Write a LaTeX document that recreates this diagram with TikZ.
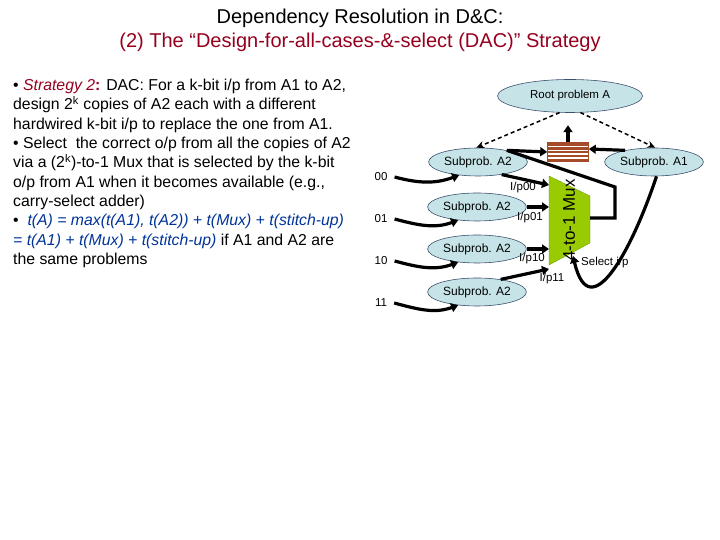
\documentclass[tikz,border=0pt]{standalone}
\usepackage{fontspec}
\setmainfont{Liberation Sans}
\usetikzlibrary{arrows.meta,shapes.geometric}
\definecolor{ttl}{RGB}{150,0,30}
\definecolor{emph}{RGB}{0,51,153}
\definecolor{subb}{RGB}{198,228,232}
\definecolor{subd}{RGB}{60,80,110}
\definecolor{muxg}{RGB}{153,204,0}
\definecolor{regb}{RGB}{165,75,40}

\begin{document}
\begin{tikzpicture}[x=1pt, y=1pt,
  every node/.style={inner sep=1pt},
  sub/.style={ellipse, draw=subd, fill=subb, line width=0.6pt,
              minimum width=90pt, minimum height=28pt,
              font=\fontsize{12}{14}\selectfont},
  lbl/.style={font=\fontsize{11.5}{13}\selectfont},
  wire/.style={line width=3.2pt, -{Triangle[length=7pt,width=9pt]}},
  dep/.style={line width=1.5pt, dash pattern=on 4pt off 3pt,
              -{Stealth[length=8pt,width=7pt]}},
]
\useasboundingbox (0,0) rectangle (720,540);

%% ---- Title ----
\node[align=center, font=\fontsize{20}{24}\selectfont] (title) at (360,510)
  {Dependency Resolution in D\&C:\\
   \textcolor{ttl}{(2) The “Design-for-all-cases-\&-select (DAC)” Strategy}};

%% ---- Text block ----
\node[anchor=north west, align=left, font=\fontsize{15.8}{19.3}\selectfont] (txt) at (12,462)
  {• \textcolor{ttl}{\textit{Strategy 2}\textbf{:}} DAC: For a k-bit i/p from A1 to A2,\\
   design 2\textsuperscript{k} copies of A2 each with a different\\
   hardwired k-bit i/p to replace the one from A1.\\
   • Select\ \ the correct o/p from all the copies of A2\\
   via a (2\textsuperscript{k})-to-1 Mux that is selected by the k-bit\\
   o/p from A1 when it becomes available (e.g.,\\
   carry-select adder)\\
   •\ \ \textcolor{emph}{\textit{t(A) = max(t(A1), t(A2)) + t(Mux) + t(stitch-up)}}\\
   \textcolor{emph}{\textit{= t(A1) + t(Mux) + t(stitch-up)}} if A1 and A2 are\\
   the same problems};

%% =========================================================
%% Diagram
%% =========================================================
\node[sub, minimum width=145pt, minimum height=33pt, font=\fontsize{11.5}{13}\selectfont]
  (root) at (570,444) {Root problem A};

\node[sub] (a2a) at (478,378) {Subprob. A2};
\node[sub] (a2b) at (477,333) {Subprob. A2};
\node[sub] (a2c) at (477,291) {Subprob. A2};
\node[sub] (a2d) at (477,248) {Subprob. A2};
\node[sub] (a1)  at (654,378) {Subprob. A1};

\node[lbl] (in00) at (381,363) {00};
\node[lbl] (in01) at (381,321) {01};
\node[lbl] (in10) at (381,279) {10};
\node[lbl] (in11) at (381,237) {11};

%% register (stitch-up)
\node[draw=regb, fill=regb, line width=0.6pt, minimum width=41pt, minimum height=19pt] (reg) at (568,388) {};
\foreach \k in {1,...,4}
  \draw[white, line width=1.5pt] ([xshift=1pt,yshift=\k*3.8pt]reg.south west)
    -- ([xshift=-1pt,yshift=\k*3.8pt]reg.south east);

%% mux
\fill[muxg, draw=muxg!70!black, line width=0.3pt] (549,364) -- (590,344) -- (590,297) -- (549,275) -- cycle;
\node[rotate=90, font=\fontsize{17}{19}\selectfont] (mux) at (569,320) {4-to-1 Mux};
\coordinate (mi0) at (549,355);
\coordinate (mi1) at (549,333);
\coordinate (mi2) at (549,291);
\coordinate (mi3) at (549,271);
\coordinate (mout) at (590,322);
\coordinate (msel) at (573,284);
\coordinate (fb) at (615,353);
\coordinate (jn) at (a2a.22);

\node[lbl] (p00) at (523,352) {I/p00};
\node[lbl] (p01) at (530,322) {I/p01};
\node[lbl] (p10) at (532,281) {I/p10};
\node[lbl] (p11) at (552,261) {I/p11};
\node[lbl, anchor=west] (sel) at (580,277) {Select i/p};

%% inputs
\foreach \i/\s in {00/a2a,01/a2b,10/a2c,11/a2d}
  \draw[wire] ([xshift=6pt]in\i.east) to[out=-15,in=200] (\s.215);

%% dependencies
\draw[dep] (root.238) -- (a2a.97);
\draw[dep] (root.302) -- (a1.85);

%% data paths
\draw[wire] (a2a.-28) -- (mi0);
\draw[wire] (a2b.east) -- (mi1);
\draw[wire] (a2c.east) -- (mi2);
\draw[wire] (a2d.28) -- (mi3);
\draw[line width=3.2pt, line join=miter] (mout) -| (fb) -- (jn);
\draw[wire] (jn) -- (reg.west);
\draw[wire] (a1.158) -- ([yshift=3pt]reg.east);
\draw[wire] (reg.north) -- ++(0,17);
\draw[wire] (a1.-80) .. controls (632,290) and (590,212) .. (msel);

\end{tikzpicture}
\end{document}
